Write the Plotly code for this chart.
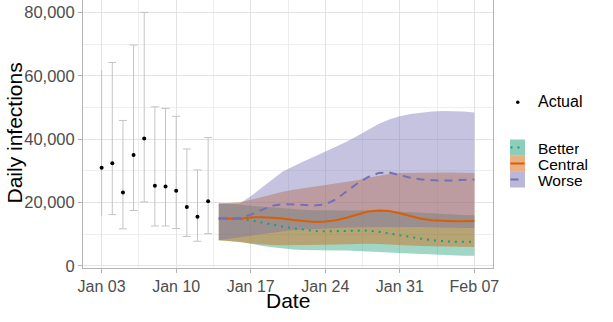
import pandas as pd
import plotly.graph_objects as go

# ---------------- data ----------------
actual_dates = pd.date_range("2021-01-03", "2021-01-13").strftime("%Y-%m-%d").tolist()
actual = [31000, 32400, 23200, 35000, 40200, 25300, 25100, 23700, 18600, 15500, 20400]
actual_hi = [61800, 64200, 45900, 69700, 80000, 50200, 49700, 47200, 36900, 30300, 40500]
actual_lo = [15800, 16200, 11700, 17500, 20200, 12600, 12600, 11800, 9300, 7800, 10200]

proj_dates = pd.date_range("2021-01-14", "2021-02-07").strftime("%Y-%m-%d").tolist()

better_mid = [15000, 15000, 14800, 14400, 13700, 13000, 12400, 11900, 11400, 11000, 10900, 11000, 11200,
              11300, 11200, 10800, 10200, 9600, 9100, 8600, 8100, 7800, 7600, 7600, 7600]
better_lo = [8100, 7900, 7600, 7000, 6400, 5900, 5500, 5200, 5000, 4900, 4900, 4900, 4900,
             4800, 4700, 4500, 4300, 4100, 3900, 3700, 3500, 3400, 3300, 3200, 3200]
better_hi = [19700, 19600, 19400, 19000, 18700, 18400, 18100, 17900, 17700, 17600, 17500, 17500, 17500,
             17500, 17600, 17500, 17300, 17100, 16900, 16700, 16500, 16300, 16200, 16100, 16000]

central_mid = [15000, 15000, 14900, 15300, 15400, 15200, 15000, 14500, 14100, 13900, 14000, 14400, 15200,
               16300, 17200, 17500, 17300, 16600, 15700, 14900, 14400, 14200, 14100, 14100, 14200]
central_lo = [8100, 7900, 7500, 7100, 6800, 6600, 6500, 6500, 6500, 6600, 6700, 6800, 6900,
              7000, 7000, 6900, 6800, 6700, 6500, 6300, 6200, 6100, 6000, 6000, 6000]
central_hi = [19700, 19800, 20100, 20900, 21800, 22700, 23400, 24000, 24500, 24900, 25300, 25800, 26300,
              27000, 27800, 28500, 29000, 29300, 29400, 29500, 29500, 29500, 29500, 29400, 29300]

worse_mid = [15000, 15000, 15100, 16200, 17600, 19000, 19500, 19400, 19200, 19100, 19400, 21000, 23500,
             26000, 28000, 29300, 29500, 28700, 27800, 27300, 27000, 26900, 27000, 27100, 27300]
worse_lo = [8100, 8500, 9000, 9500, 10000, 10500, 11000, 11300, 11500, 11700, 11900, 12000, 12100,
            12200, 12300, 12400, 12400, 12400, 12300, 12300, 12200, 12100, 12000, 12000, 12000]
worse_hi = [19700, 19700, 19800, 22000, 24500, 27200, 29800, 31500, 33000, 34500, 36000, 37600, 39200,
            41000, 43000, 44800, 46200, 47200, 47900, 48400, 48700, 48900, 48900, 48700, 48400]

scenarios = ["Better", "Central", "Worse"]
x_tick_vals = ["2021-01-03", "2021-01-10", "2021-01-17", "2021-01-24", "2021-01-31", "2021-02-07"]
x_tick_text = ["Jan 03", "Jan 10", "Jan 17", "Jan 24", "Jan 31", "Feb 07"]
x_minor_vals = ["2021-01-06 12:00", "2021-01-13 12:00", "2021-01-20 12:00", "2021-01-27 12:00", "2021-02-03 12:00"]
y_tick_vals = [0, 20000, 40000, 60000, 80000]
y_tick_text = ["0", "20,000", "40,000", "60,000", "80,000"]
y_minor_vals = [10000, 30000, 50000, 70000]

# ---------------- style ----------------
colors = {"Better": (27, 158, 119), "Central": (217, 95, 2), "Worse": (117, 112, 179)}
dashes = {"Better": "2px,5px", "Central": "solid", "Worse": "8px,6px"}
ALPHA = 0.42
FONT = "Liberation Sans, Arial, sans-serif"

W, H = 613, 322
L, R, T, B = 83, 120, 0, 54
PW, PH = W - L - R, H - T - B


def px(x):
    return (x - L) / PW


def py(y):
    return (H - B - y) / PH


def rgba(c, a):
    return f"rgba({c[0]},{c[1]},{c[2]},{a})"


bands = {
    "Better": (better_lo, better_mid, better_hi),
    "Central": (central_lo, central_mid, central_hi),
    "Worse": (worse_lo, worse_mid, worse_hi),
}

fig = go.Figure()

# ribbons
for s in scenarios:
    lo, mid, hi = bands[s]
    fig.add_trace(go.Scatter(
        x=proj_dates + proj_dates[::-1], y=hi + lo[::-1], fill="toself",
        fillcolor=rgba(colors[s], ALPHA), line=dict(width=0), mode="lines",
        hoverinfo="skip", showlegend=False,
    ))

# central lines
for s in scenarios:
    lo, mid, hi = bands[s]
    fig.add_trace(go.Scatter(
        x=proj_dates, y=mid, mode="lines",
        line=dict(color=rgba(colors[s], 1), width=2, dash=dashes[s]),
        showlegend=False,
    ))

# actual with error bars (first bar drawn without caps, as in the reference)
for sl, cap in ((slice(0, 1), 0), (slice(1, None), 4)):
    a = actual[sl]
    hi = actual_hi[sl]
    lo = actual_lo[sl]
    fig.add_trace(go.Scatter(
        x=actual_dates[sl], y=a, mode="markers",
        marker=dict(color="black", size=4),
        error_y=dict(type="data", symmetric=False,
                     array=[h - v for h, v in zip(hi, a)],
                     arrayminus=[v - l for v, l in zip(a, lo)],
                     color="#c4c4c4", thickness=1, width=cap),
        showlegend=False,
    ))

grid_major = "#e3e3e3"
grid_minor = "#eeeeee"
border = "#b3b3b3"

fig.update_layout(
    width=W, height=H,
    margin=dict(l=L, r=R, t=T, b=B, pad=0),
    paper_bgcolor="white", plot_bgcolor="white",
    font=dict(family=FONT, color="#4d4d4d"),
    showlegend=False,
    xaxis=dict(
        type="date", range=["2021-01-01 06:00", "2021-02-08 18:00"],
        tickmode="array", tickvals=x_tick_vals, ticktext=x_tick_text,
        tickfont=dict(size=16, color="#4d4d4d"),
        showgrid=True, gridcolor=grid_major, gridwidth=1,
        minor=dict(tickmode="array", tickvals=x_minor_vals, showgrid=True, gridcolor=grid_minor, gridwidth=1),
        ticks="outside", ticklen=4, tickcolor=border, tickwidth=1,
        showline=True, linecolor=border, linewidth=1, mirror=True, zeroline=False,
    ),
    yaxis=dict(
        range=[-650, 83900],
        tickmode="array", tickvals=y_tick_vals, ticktext=y_tick_text,
        tickfont=dict(size=16.5, color="#4d4d4d"),
        showgrid=True, gridcolor=grid_major, gridwidth=1,
        minor=dict(tickmode="array", tickvals=y_minor_vals, showgrid=True, gridcolor=grid_minor, gridwidth=1),
        ticks="outside", ticklen=4, tickcolor=border, tickwidth=1,
        showline=True, linecolor=border, linewidth=1, mirror=True, zeroline=False,
    ),
)

annotations = [
    dict(text="Daily infections", x=px(13.5), y=py(133), xref="paper", yref="paper",
         textangle=-90, showarrow=False, font=dict(size=21, color="black", family=FONT),
         xanchor="center", yanchor="middle"),
    dict(text="Date", x=px(288), y=py(300), xref="paper", yref="paper",
         showarrow=False, font=dict(size=21, color="black", family=FONT),
         xanchor="center", yanchor="middle"),
    dict(text="Actual", x=px(536), y=py(101), xref="paper", yref="paper",
         showarrow=False, font=dict(size=16, color="black", family=FONT),
         xanchor="left", yanchor="middle"),
]
shapes = [
    dict(type="circle", xref="paper", yref="paper",
         x0=px(516), x1=px(519.5), y0=py(100.5), y1=py(104),
         fillcolor="black", line=dict(width=0)),
]
key_tops = {"Better": 139.5, "Central": 155.5, "Worse": 171.5}
for s in scenarios:
    t = key_tops[s]
    shapes.append(dict(type="rect", xref="paper", yref="paper",
                       x0=px(510), x1=px(525), y0=py(t + 16), y1=py(t),
                       fillcolor=rgba(colors[s], ALPHA + 0.08), line=dict(width=0)))
    shapes.append(dict(type="line", xref="paper", yref="paper",
                       x0=px(510.5), x1=px(524.5), y0=py(t + 8), y1=py(t + 8),
                       line=dict(color=rgba(colors[s], 1), width=2, dash=dashes[s])))
    annotations.append(dict(text=s, x=px(536), y=py(t + 8.5), xref="paper", yref="paper",
                            showarrow=False, font=dict(size=15.5, color="black", family=FONT),
                            xanchor="left", yanchor="middle", height=16, valign="middle"))

fig.update_layout(annotations=annotations, shapes=shapes)

fig.write_html("out.html")
